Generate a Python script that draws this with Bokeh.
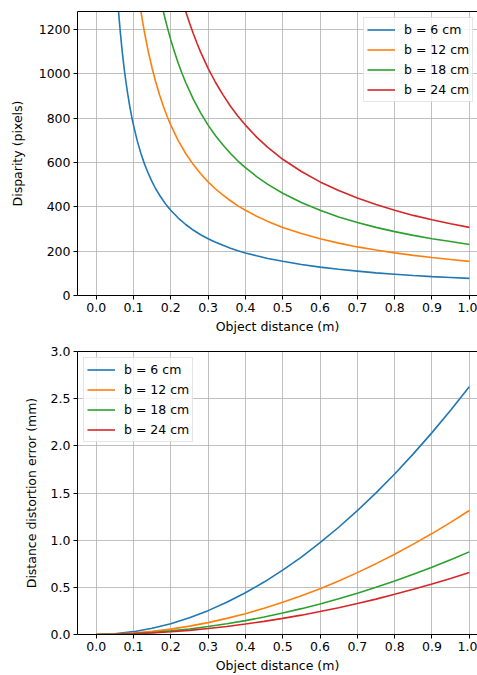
from bokeh.plotting import figure
from bokeh.layouts import column
from bokeh.models import (Legend, LegendItem, FixedTicker, NumeralTickFormatter,
                          LinearAxis, Range1d)
from bokeh.embed import file_html
from bokeh.resources import INLINE

FONT = "DejaVu Sans"
COLORS = ["#1f77b4", "#ff7f0e", "#2ca02c", "#d62728"]
LABELS = ["b = 6 cm", "b = 12 cm", "b = 18 cm", "b = 24 cm"]

x_ticks = [0.0, 0.1, 0.2, 0.3, 0.4, 0.5, 0.6, 0.7, 0.8, 0.9, 1.0]
disp_ticks = [0, 200, 400, 600, 800, 1000, 1200]
err_ticks = [0.0, 0.5, 1.0, 1.5, 2.0, 2.5, 3.0]

# ---- top panel: disparity (pixels) vs object distance (m) ----
z_b6 = [0.05, 0.055, 0.06, 0.065, 0.07, 0.075, 0.08, 0.085, 0.09, 0.095, 0.10,
        0.11, 0.12, 0.13, 0.14, 0.15, 0.16, 0.17, 0.18, 0.19, 0.20, 0.22, 0.24,
        0.26, 0.28, 0.30, 0.32, 0.34, 0.36, 0.38, 0.40, 0.43, 0.46, 0.50, 0.55,
        0.60, 0.65, 0.70, 0.75, 0.80, 0.85, 0.90, 0.95, 1.00]
disp_b6 = [1536, 1396, 1280, 1182, 1097, 1024, 960, 904, 853, 808, 768,
           698, 640, 591, 549, 512, 480, 452, 427, 404, 384, 349, 320,
           295, 274, 256, 240, 226, 213, 202, 192, 179, 167, 154, 140,
           128, 118, 110, 102, 96, 90, 85, 81, 77]

z_b12 = [0.11, 0.115, 0.12, 0.125, 0.13, 0.14, 0.15, 0.16, 0.17, 0.18, 0.19,
         0.20, 0.22, 0.24, 0.26, 0.28, 0.30, 0.32, 0.34, 0.36, 0.38, 0.40,
         0.43, 0.46, 0.50, 0.55, 0.60, 0.65, 0.70, 0.75, 0.80, 0.85, 0.90,
         0.95, 1.00]
disp_b12 = [1396, 1336, 1280, 1229, 1182, 1097, 1024, 960, 904, 853, 808,
            768, 698, 640, 591, 549, 512, 480, 452, 427, 404, 384,
            357, 334, 307, 279, 256, 236, 219, 205, 192, 181, 171,
            162, 154]

z_b18 = [0.17, 0.18, 0.19, 0.20, 0.21, 0.22, 0.23, 0.24, 0.26, 0.28, 0.30,
         0.32, 0.34, 0.36, 0.38, 0.40, 0.43, 0.46, 0.50, 0.55, 0.60, 0.65,
         0.70, 0.75, 0.80, 0.85, 0.90, 0.95, 1.00]
disp_b18 = [1355, 1280, 1213, 1152, 1097, 1047, 1002, 960, 886, 823, 768,
            720, 678, 640, 606, 576, 536, 501, 461, 419, 384, 354,
            329, 307, 288, 271, 256, 243, 230]

z_b24 = [0.23, 0.24, 0.25, 0.26, 0.27, 0.28, 0.30, 0.32, 0.34, 0.36, 0.38,
         0.40, 0.43, 0.46, 0.50, 0.55, 0.60, 0.65, 0.70, 0.75, 0.80, 0.85,
         0.90, 0.95, 1.00]
disp_b24 = [1336, 1280, 1229, 1182, 1138, 1097, 1024, 960, 904, 853, 808,
            768, 714, 668, 614, 559, 512, 473, 439, 410, 384, 361,
            341, 323, 307]

# ---- bottom panel: distance distortion error (mm) ----
z_err = [0.0, 0.05, 0.1, 0.15, 0.2, 0.25, 0.3, 0.35, 0.4, 0.45, 0.5,
         0.55, 0.6, 0.65, 0.7, 0.75, 0.8, 0.85, 0.9, 0.95, 1.0]
err_b6 = [0.0, 0.008, 0.030, 0.066, 0.115, 0.177, 0.253, 0.341, 0.442, 0.556, 0.682,
          0.821, 0.973, 1.137, 1.313, 1.501, 1.702, 1.915, 2.140, 2.378, 2.627]
err_b12 = [0.0, 0.004, 0.015, 0.033, 0.057, 0.089, 0.126, 0.171, 0.221, 0.278, 0.341,
           0.411, 0.486, 0.568, 0.656, 0.751, 0.851, 0.958, 1.070, 1.189, 1.314]
err_b18 = [0.0, 0.003, 0.010, 0.022, 0.038, 0.059, 0.084, 0.114, 0.147, 0.185, 0.227,
           0.274, 0.324, 0.379, 0.438, 0.500, 0.567, 0.638, 0.713, 0.793, 0.876]
err_b24 = [0.0, 0.002, 0.008, 0.016, 0.029, 0.044, 0.063, 0.085, 0.111, 0.139, 0.171,
           0.205, 0.243, 0.284, 0.328, 0.375, 0.426, 0.479, 0.535, 0.594, 0.657]

FS = "12.5px"


def style_axis(ax, ticks, fmt, label):
    ax.ticker = FixedTicker(ticks=ticks)
    ax.formatter = NumeralTickFormatter(format=fmt)
    ax.axis_label = label
    ax.axis_label_text_font = FONT
    ax.axis_label_text_font_size = FS
    ax.axis_label_text_font_style = "normal"
    ax.axis_label_text_color = "black"
    ax.major_label_text_font = FONT
    ax.major_label_text_font_size = FS
    ax.major_label_text_color = "black"
    ax.axis_line_color = "black"
    ax.axis_line_width = 1
    ax.major_tick_line_color = "black"
    ax.major_tick_line_width = 1
    ax.major_tick_out = 4
    ax.major_tick_in = 0
    ax.minor_tick_line_color = None
    ax.major_label_standoff = 3


def make_fig(height, ymax, yticks, yfmt, ylabel, top_border, bottom_border, ylab_standoff):
    p = figure(width=477, height=height, output_backend="svg", toolbar_location=None,
               x_range=Range1d(-0.05, 1.022), y_range=Range1d(0, ymax),
               min_border_left=77, min_border_right=0,
               min_border_top=top_border, min_border_bottom=bottom_border)
    p.outline_line_color = None
    p.background_fill_color = "white"
    style_axis(p.xaxis[0], x_ticks, "0.0", "Object distance (m)")
    style_axis(p.yaxis[0], yticks, yfmt, ylabel)
    p.xaxis[0].axis_label_standoff = 4
    p.yaxis[0].axis_label_standoff = ylab_standoff
    for g, t in ((p.xgrid[0], x_ticks), (p.ygrid[0], yticks)):
        g.ticker = FixedTicker(ticks=t)
        g.grid_line_color = "#b0b0b0"
        g.grid_line_width = 0.8
    top = LinearAxis(ticker=FixedTicker(ticks=[]), axis_line_color="black",
                     axis_line_width=1, major_tick_out=0, major_tick_in=0,
                     minor_tick_line_color=None, major_label_standoff=0,
                     major_label_text_font_size="0px")
    p.add_layout(top, "above")
    return p


def add_legend(p, renderers, location, margin):
    items = [LegendItem(label=l, renderers=[r]) for l, r in zip(LABELS, renderers)]
    leg = Legend(items=items, location=location, margin=margin,
                 label_text_font=FONT, label_text_font_size=FS, label_text_color="black",
                 glyph_width=28, glyph_height=17, label_height=17, spacing=3,
                 padding=3, label_standoff=9,
                 border_line_color="#cccccc", border_line_width=1,
                 background_fill_color="white", background_fill_alpha=0.8)
    p.add_layout(leg)


p1 = make_fig(336, 1280, disp_ticks, "0", "Disparity (pixels)", 11, 41, 11)
r1 = []
for xs, ys, c in zip([z_b6, z_b12, z_b18, z_b24],
                     [disp_b6, disp_b12, disp_b18, disp_b24], COLORS):
    r1.append(p1.line(xs, ys, line_color=c, line_width=1.6))
add_legend(p1, r1, (286, 193), 0)

p2 = make_fig(339, 3.0, err_ticks, "0.0", "Distance distortion error (mm)", 15, 40, 9)
r2 = []
for ys, c in zip([err_b6, err_b12, err_b18, err_b24], COLORS):
    r2.append(p2.line(z_err, ys, line_color=c, line_width=1.6))
add_legend(p2, r2, "top_left", 6)

layout = column(p1, p2, spacing=0)
open("out.html", "w").write(file_html(layout, INLINE))
